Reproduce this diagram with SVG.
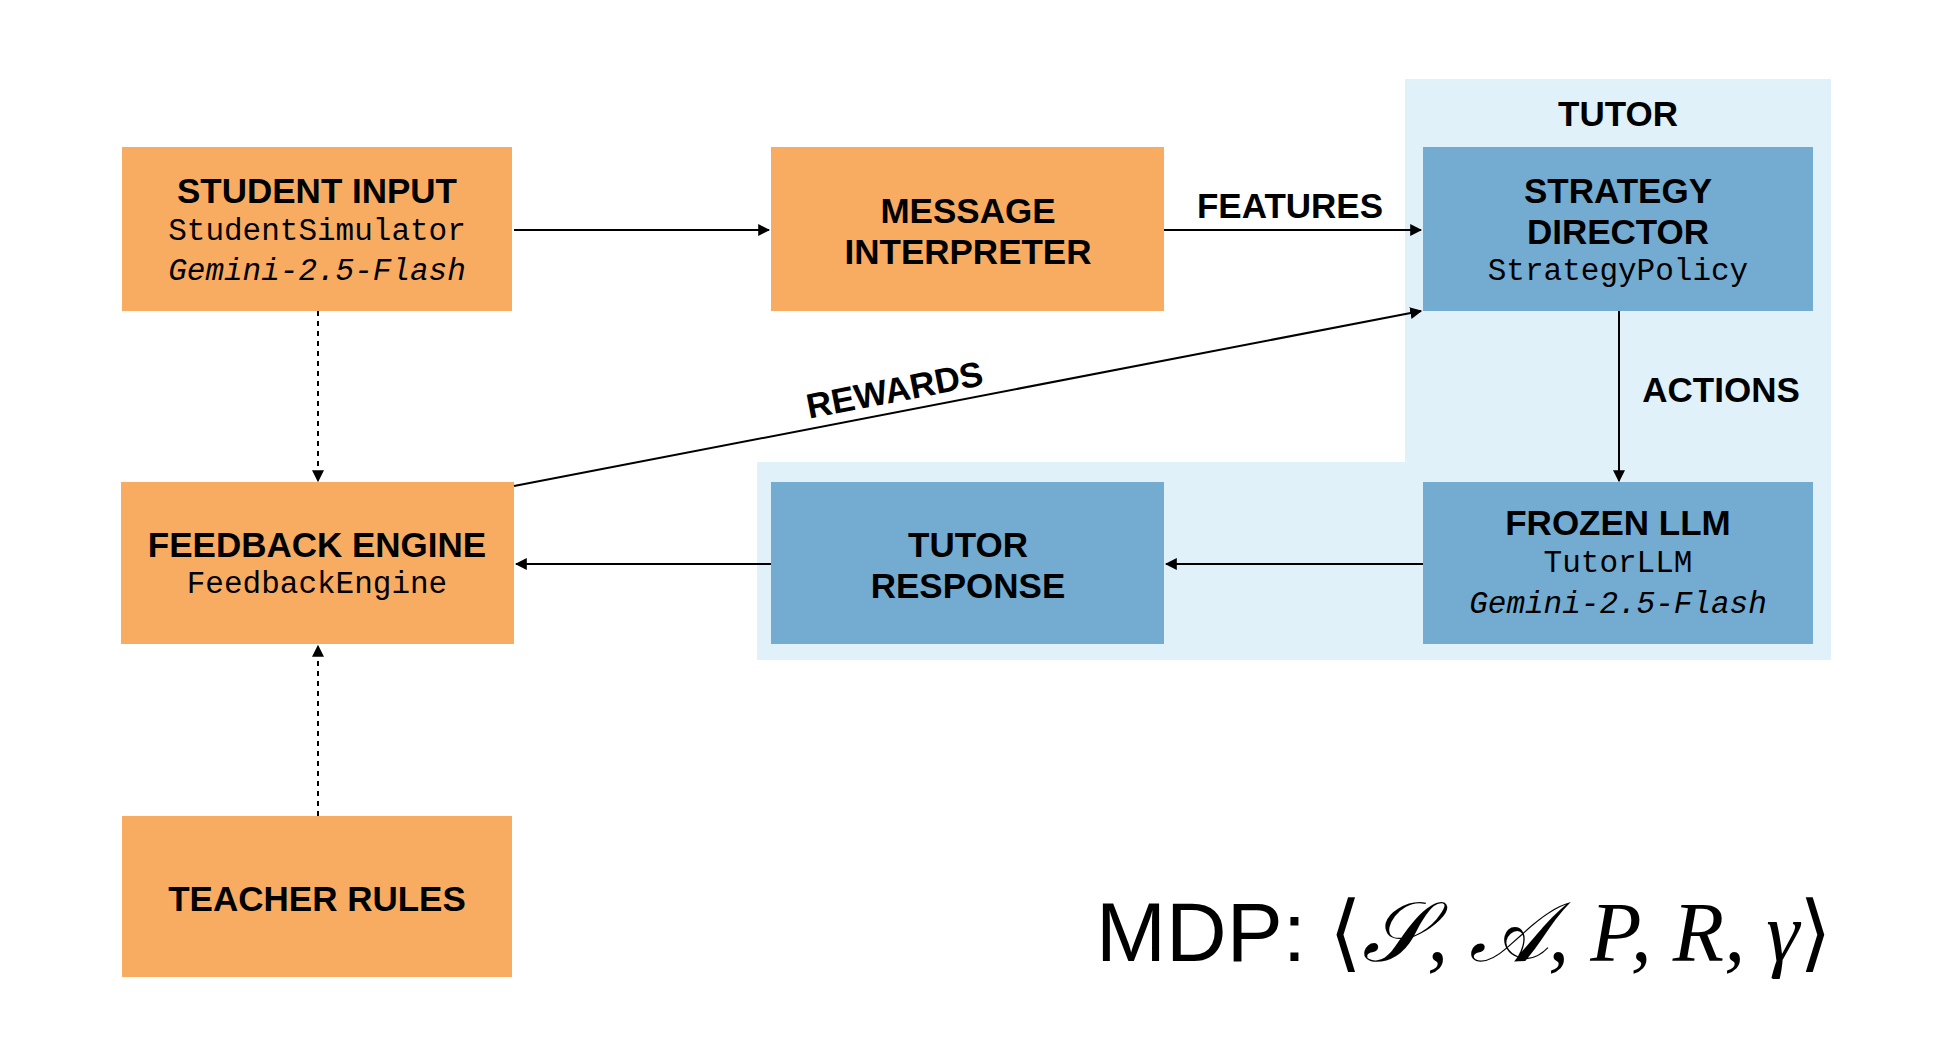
<svg xmlns="http://www.w3.org/2000/svg" width="1947" height="1052" viewBox="0 0 1947 1052">
<defs>
<style>
.o{fill:#F8AC62}.b{fill:#74ABD1}
.t{font-family:"Liberation Sans",Arial,sans-serif;font-weight:bold;font-size:35px;fill:#000;text-anchor:middle}
.m{font-family:"Liberation Mono","DejaVu Sans Mono",monospace;font-size:31px;fill:#000;text-anchor:middle}
.i{font-style:italic}
.l{stroke:#000;stroke-width:2;fill:none}
.d{stroke:#000;stroke-width:2;fill:none;stroke-dasharray:5,5}
</style>
<marker id="a" viewBox="0 0 10 10" refX="9" refY="5" markerWidth="6" markerHeight="6" orient="auto"><path d="M0,0L10,5L0,10z" fill="#000"/></marker>
</defs>
<rect width="1947" height="1052" fill="#fff"/>
<g id="tutor-group">
<path d="M1405,79H1831V660H757V462H1405Z" fill="#E0F1F9"/>
<text class="t" x="1618" y="126">TUTOR</text>
</g>
<g id="student"><rect class="o" x="122" y="147" width="390" height="164"/>
<text class="t" x="317" y="203">STUDENT INPUT</text><text class="m" x="317" y="240">StudentSimulator</text><text class="m i" x="317" y="280">Gemini-2.5-Flash</text></g>
<g id="message"><rect class="o" x="771" y="147" width="393" height="164"/>
<text class="t" x="968" y="223">MESSAGE</text><text class="t" x="968" y="264">INTERPRETER</text></g>
<g id="strategy"><rect class="b" x="1423" y="147" width="390" height="164"/>
<text class="t" x="1618" y="203">STRATEGY</text><text class="t" x="1618" y="244">DIRECTOR</text><text class="m" x="1618" y="280">StrategyPolicy</text></g>
<g id="feedback"><rect class="o" x="121" y="482" width="393" height="162"/>
<text class="t" x="317" y="557">FEEDBACK ENGINE</text><text class="m" x="317" y="593">FeedbackEngine</text></g>
<g id="response"><rect class="b" x="771" y="482" width="393" height="162"/>
<text class="t" x="968" y="557">TUTOR</text><text class="t" x="968" y="598">RESPONSE</text></g>
<g id="frozen"><rect class="b" x="1423" y="482" width="390" height="162"/>
<text class="t" x="1618" y="535">FROZEN LLM</text><text class="m" x="1618" y="572">TutorLLM</text><text class="m i" x="1618" y="613">Gemini-2.5-Flash</text></g>
<g id="teacher"><rect class="o" x="122" y="816" width="390" height="161"/>
<text class="t" x="317" y="911">TEACHER RULES</text></g>
<g id="connectors">
<path class="l" d="M514,230H769" marker-end="url(#a)"/>
<path class="l" d="M1164,230H1421" marker-end="url(#a)"/>
<text class="t" x="1290" y="218">FEATURES</text>
<path class="l" d="M1619,311V481" marker-end="url(#a)"/>
<text class="t" x="1721" y="402">ACTIONS</text>
<path class="l" d="M1423,564H1166" marker-end="url(#a)"/>
<path class="l" d="M771,564H516" marker-end="url(#a)"/>
<path class="l" d="M514,486L1421,311" marker-end="url(#a)"/>
<text class="t" x="895" y="402" transform="rotate(-10.9 895 392)">REWARDS</text>
<path class="d" d="M318,311V481" marker-end="url(#a)"/>
<path class="d" d="M318,816V646" marker-end="url(#a)"/>
</g>
<g id="mdp">
<text x="1096" y="961" font-family="Liberation Sans,Arial,sans-serif" font-size="84">MDP: <tspan font-family="Liberation Serif,serif">⟨</tspan><tspan font-family="Liberation Serif,serif" font-style="italic">𝒮, 𝒜, P, R, γ</tspan><tspan font-family="Liberation Serif,serif">⟩</tspan></text>
</g>
</svg>
